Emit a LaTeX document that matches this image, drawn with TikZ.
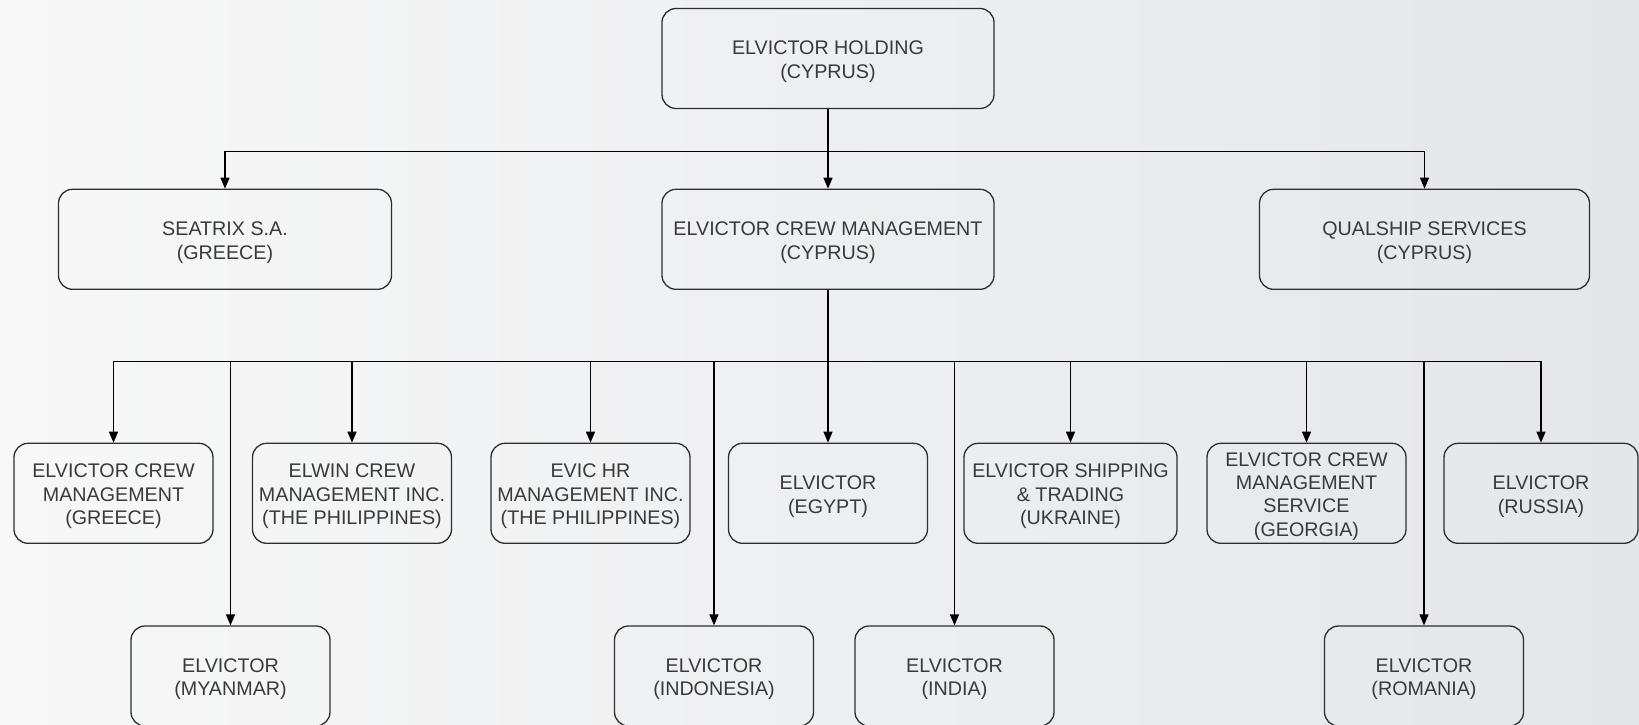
\documentclass[tikz,border=0pt]{standalone}
\usepackage{fontspec}
\setmainfont{Liberation Sans}
\usetikzlibrary{arrows.meta}
\definecolor{txt}{HTML}{3A3A3A}
\definecolor{bdr}{HTML}{2E2E2E}
\definecolor{bgl}{HTML}{F8F8F8}
\definecolor{bgr}{HTML}{E4E6E9}
\newcommand\toppad{\rule{0pt}{20pt}}
\tikzset{
  org/.style={draw=bdr, line width=1.3pt, rounded corners=14pt, align=center,
    inner sep=0pt, text=txt, font=\fontsize{19.7}{23.6}\selectfont,
    minimum height=100pt},
  wA/.style={org, minimum width=332pt},
  wB/.style={org, minimum width=199pt},
  conn/.style={line width=1.3pt, draw=black},
  arr/.style={conn, -{Triangle[length=11pt,width=9pt]}}
}
\begin{document}
\begin{tikzpicture}[x=1pt,y=-1pt]
\useasboundingbox (0,0) rectangle (1639,724);
\shade[left color=bgl, right color=bgr] (0,0) rectangle (1639,724);
\clip (0,0) rectangle (1639,724);

% top
\node[wA] (hold) at (828,58.5) {\toppad ELVICTOR HOLDING\\(CYPRUS)};
% row 2
\node[wA, minimum width=333pt] (sea) at (225,239.3) {\toppad SEATRIX S.A.\\(GREECE)};
\node[wA] (crew) at (828,239.3) {\toppad ELVICTOR CREW MANAGEMENT\\(CYPRUS)};
\node[wA, minimum width=330pt] (qual) at (1424.5,239.3) {\toppad QUALSHIP SERVICES\\(CYPRUS)};
% row 3
\node[wB] (gr) at (113.5,493.3) {\toppad ELVICTOR CREW\\MANAGEMENT\\(GREECE)};
\node[wB] (elwin) at (352,493.3) {\toppad ELWIN CREW\\MANAGEMENT INC.\\(THE PHILIPPINES)};
\node[wB] (evic) at (590.5,493.3) {\toppad EVIC HR\\MANAGEMENT INC.\\(THE PHILIPPINES)};
\node[wB] (egy) at (828,493.3) {\toppad ELVICTOR\\(EGYPT)};
\node[wB, minimum width=213pt] (ukr) at (1070.5,493.3) {\toppad ELVICTOR SHIPPING\\\& TRADING\\(UKRAINE)};
\node[wB, font=\fontsize{19.7}{23.2}\selectfont] (geo) at (1306.5,493.3) {\toppad ELVICTOR CREW\\MANAGEMENT\\SERVICE\\(GEORGIA)};
\node[wB, minimum width=194pt] (rus) at (1541,493.3) {\toppad ELVICTOR\\(RUSSIA)};
% row 4
\node[wB] (mya) at (230.5,676) {\toppad ELVICTOR\\(MYANMAR)};
\node[wB] (ind) at (714,676) {\toppad ELVICTOR\\(INDONESIA)};
\node[wB] (inda) at (954.5,676) {\toppad ELVICTOR\\(INDIA)};
\node[wB] (rom) at (1424,676) {\toppad ELVICTOR\\(ROMANIA)};

% connectors level 1
\coordinate (b1) at (828,151.6);
\draw[conn] (hold.south) -- (b1);
\draw[arr] (b1) -- (crew.north);
\draw[arr] (b1) -| (sea.north);
\draw[arr] (b1) -| (qual.north);

% connectors level 2
\coordinate (b2) at (828,361.7);
\draw[conn] (crew.south) -- (b2);
\foreach \n in {gr,elwin,evic,ukr,geo,rus,mya,ind,inda,rom}{
  \draw[arr] (b2) -| (\n.north);
}
\draw[arr] (b2) -- (egy.north);
\end{tikzpicture}
\end{document}
